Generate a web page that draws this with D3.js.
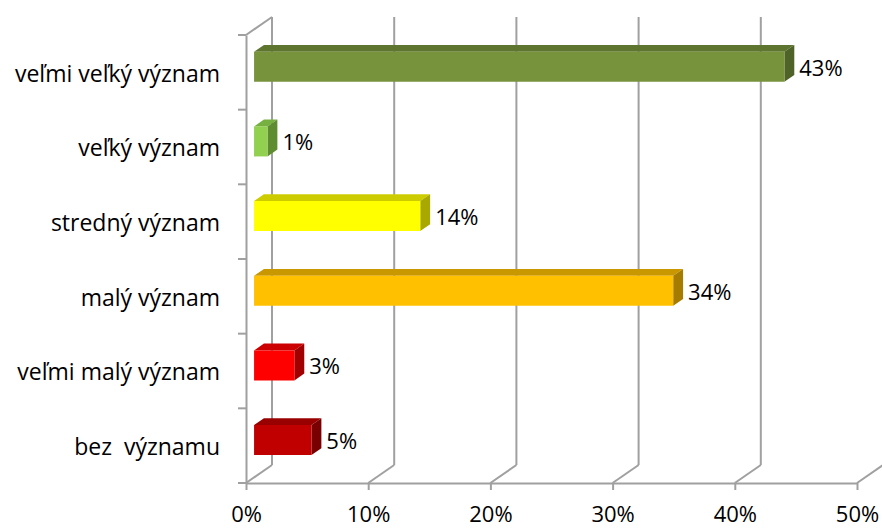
<!DOCTYPE html>
<html><head><meta charset="utf-8">
<script src="https://cdn.jsdelivr.net/npm/d3@7"></script>
<style>body{margin:0;background:#fff}text{font-family:"Open Sans",Lato,sans-serif;fill:#000}</style>
</head><body><svg id="c" width="882" height="528"></svg>
<script>
const categories = ["veľmi veľký význam","veľký význam","stredný význam","malý význam","veľmi malý význam","bez  významu"];
const values = [43.4, 1.1, 13.6, 34.3, 3.3, 4.7];
const labels = ["43%","1%","14%","34%","3%","5%"];
const ticks = [0,10,20,30,40,50];
const frontColors = ["#77933C","#92D050","#FFFF00","#FFC000","#FF0000","#C00000"];
const topColors   = ["#5E7530","#76B040","#CCCC00","#C99700","#CC0000","#990000"];
const sideColors  = ["#4F6228","#5E8C30","#A8A800","#A67C00","#A00000","#780000"];

const svg = d3.select("#c");
const DX = 26, DY = -18, D0 = 0.31, D1 = 0.69, BAR_H = 30;
const FS = "22px", FS_CAT = "23px";
const x = d3.scaleLinear().domain([0,50]).range([246,857]);
const y = d3.scaleBand().domain(categories).range([35,483]).padding(0);
const P = (v, yy, d) => [x(v) + d*DX, yy + d*DY];
const grid = "#A0A0A0";

// back wall gridlines + floor diagonals
ticks.forEach(t => {
  const [bx, by] = P(t, 483, 1);
  svg.append("line").attr("x1", bx).attr("y1", P(t,35,1)[1]).attr("x2", bx).attr("y2", by)
    .attr("stroke", grid).attr("stroke-width", 2);
  svg.append("line").attr("x1", x(t)).attr("y1", 483).attr("x2", bx).attr("y2", by)
    .attr("stroke", grid).attr("stroke-width", 2);
});
// left wall top diagonal
svg.append("line").attr("x1", x(0)).attr("y1", 35).attr("x2", P(0,35,1)[0]).attr("y2", P(0,35,1)[1])
  .attr("stroke", grid).attr("stroke-width", 2);

// axes
const xAxis = d3.axisBottom(x).tickValues(ticks).tickFormat(d => d + "%").tickSizeInner(7).tickSizeOuter(0).tickPadding(16);
const gx = svg.append("g").attr("transform","translate(0,483)").call(xAxis);
gx.select(".domain").attr("stroke", grid).attr("stroke-width", 2);
gx.selectAll(".tick line").attr("stroke", grid).attr("stroke-width", 2);
gx.selectAll("text").style("font-size",FS).attr("fill","#000");

const yAxis = d3.axisLeft(y).tickSize(0).tickPadding(26);
const gy = svg.append("g").attr("transform","translate(246,0)").call(yAxis);
gy.select(".domain").attr("stroke", grid).attr("stroke-width", 2);
gy.selectAll("text").style("font-size",FS_CAT).style("white-space","pre").attr("dy","0.4em").attr("fill","#000");
// category boundary ticks
[...categories.map(c => y(c)), 483].forEach(v => {
  svg.append("line").attr("x1", 238).attr("x2", 246).attr("y1", v).attr("y2", v)
    .attr("stroke", grid).attr("stroke-width", 2);
});

// bars
const poly = pts => pts.map(p => p.join(",")).join(" ");
categories.forEach((c, i) => {
  const v = values[i];
  const yc = y(c) + y.bandwidth()/2;
  const yt = yc - BAR_H/2, yb = yc + BAR_H/2;
  const g = svg.append("g");
  const ftl = P(0,yt,D0), ftr = P(v,yt,D0), fbr = P(v,yb,D0), fbl = P(0,yb,D0);
  const btl = P(0,yt,D1), btr = P(v,yt,D1), bbr = P(v,yb,D1);
  g.append("polygon").attr("points", poly([ftl,ftr,btr,btl])).attr("fill", topColors[i]);
  g.append("polygon").attr("points", poly([ftr,btr,bbr,fbr])).attr("fill", sideColors[i]);
  g.append("polygon").attr("points", poly([ftl,ftr,fbr,fbl])).attr("fill", frontColors[i]);
  svg.append("text").attr("x", btr[0] + 5).attr("y", (ftl[1]+fbl[1])/2).attr("dy","0.4em")
    .style("font-size",FS).text(labels[i]);
});
</script></body></html>
